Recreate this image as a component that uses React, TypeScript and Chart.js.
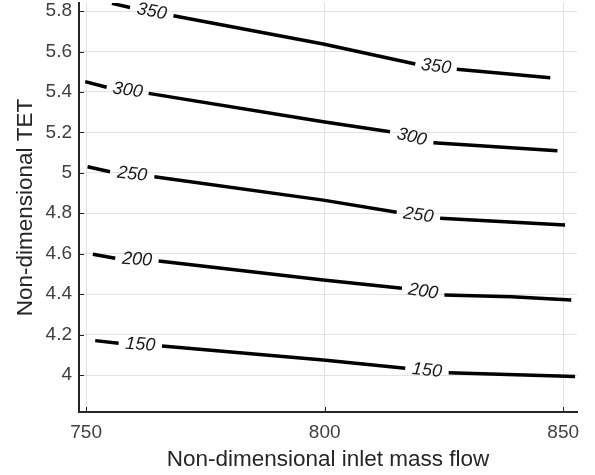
import React, { useEffect, useRef } from "react";
import { Chart, registerables } from "chart.js";
Chart.register(...registerables);

// Contour levels and their lines (null = gap where the label sits)
const levels = [150, 200, 250, 300, 350];

const mass150 = [751.9, 756.8, null, 765.9, 799.7, 816.9, null, 826.0, 852.5];
const tet150 = [4.170, 4.157, null, 4.143, 4.074, 4.033, null, 4.011, 3.992];

const mass200 = [751.4, 756.1, null, 765.2, 799.7, 816.2, null, 825.1, 839.2, 851.7];
const tet200 = [4.597, 4.577, null, 4.564, 4.470, 4.429, null, 4.396, 4.387, 4.371];

const mass250 = [750.3, 755.0, null, 764.3, 799.7, 815.1, null, 824.2, 850.4];
const tet250 = [5.030, 5.005, null, 4.981, 4.865, 4.805, null, 4.775, 4.742];

const mass300 = [749.8, 754.3, null, 763.1, 799.7, 813.7, null, 822.8, 848.8];
const tet300 = [5.451, 5.423, null, 5.393, 5.253, 5.203, null, 5.149, 5.109];

const mass350 = [755.4, 759.2, null, 768.3, 799.7, 819.0, null, 827.7, 847.3];
const tet350 = [5.838, 5.818, null, 5.777, 5.637, 5.538, null, 5.512, 5.470];

const massSeries = [mass150, mass200, mass250, mass300, mass350];
const tetSeries = [tet150, tet200, tet250, tet300, tet350];

const xTicks = [750, 800, 850];
const yTicks = [4, 4.2, 4.4, 4.6, 4.8, 5, 5.2, 5.4, 5.6, 5.8];
const xRange = [748.5, 852.9];
const yRange = [3.817, 5.84];

const xTitle = "Non-dimensional inlet mass flow";
const yTitle = "Non-dimensional TET";

const FONT = "'Liberation Sans', Arial, Helvetica, sans-serif";
const AXIS_COLOR = "#262626";

const contourLabels = {
  id: "contourLabels",
  afterDatasetsDraw(chart: any) {
    const { ctx, scales } = chart;
    const xs = scales.x;
    const ys = scales.y;
    ctx.save();
    ctx.font = `italic 18px ${FONT}`;
    ctx.fillStyle = "#1a1a1a";
    ctx.textAlign = "center";
    ctx.textBaseline = "middle";
    chart.data.datasets.forEach((ds: any, di: number) => {
      const d = ds.data;
      for (let i = 1; i < d.length - 1; i++) {
        if (d[i].y === null) {
          const a = d[i - 1];
          const b = d[i + 1];
          const ax = xs.getPixelForValue(a.x);
          const ay = ys.getPixelForValue(a.y);
          const bx = xs.getPixelForValue(b.x);
          const by = ys.getPixelForValue(b.y);
          const ang = Math.atan2(by - ay, bx - ax);
          ctx.save();
          ctx.translate((ax + bx) / 2, (ay + by) / 2);
          ctx.rotate(ang);
          ctx.fillText(String(levels[di]), 0, 0);
          ctx.restore();
        }
      }
    });
    ctx.restore();
  },
};

const inwardTicks = {
  id: "inwardTicks",
  afterDraw(chart: any) {
    const { ctx, scales, chartArea } = chart;
    ctx.save();
    ctx.strokeStyle = AXIS_COLOR;
    ctx.lineWidth = 1;
    ctx.beginPath();
    scales.y.ticks.forEach((t: any) => {
      const py = Math.round(scales.y.getPixelForValue(t.value)) + 0.5;
      ctx.moveTo(chartArea.left, py);
      ctx.lineTo(chartArea.left + 5, py);
    });
    scales.x.ticks.forEach((t: any) => {
      const px = Math.round(scales.x.getPixelForValue(t.value)) + 0.5;
      ctx.moveTo(px, chartArea.bottom);
      ctx.lineTo(px, chartArea.bottom - 5);
    });
    ctx.stroke();
    ctx.restore();
  },
};

export default function App() {
  const ref = useRef<HTMLCanvasElement>(null);
  useEffect(() => {
    if (!ref.current) return;
    const datasets = massSeries.map((xs, k) => ({
      label: String(levels[k]),
      data: xs.map((x, i) => ({ x, y: tetSeries[k][i] })),
      borderColor: "#000000",
      borderWidth: 3.5,
      pointRadius: 0,
      tension: 0,
      spanGaps: false,
      fill: false,
    }));
    const chart = new Chart(ref.current, {
      type: "line",
      data: { datasets },
      plugins: [contourLabels, inwardTicks],
      options: {
        animation: false,
        responsive: false,
        maintainAspectRatio: false,
        layout: { padding: { top: 3, right: 18, left: 0, bottom: 0 } },
        plugins: { legend: { display: false }, tooltip: { enabled: false } },
        scales: {
          x: {
            type: "linear",
            min: xRange[0],
            max: xRange[1],
            afterBuildTicks: (s: any) => {
              s.ticks = xTicks.map((v) => ({ value: v }));
            },
            afterFit: (s: any) => {
              s.height = 63;
              s.paddingLeft = 0;
              s.paddingRight = 0;
            },
            grid: { color: "#e3e3e3", lineWidth: 1, drawTicks: false },
            border: { display: true, color: AXIS_COLOR, width: 2 },
            ticks: {
              color: "#404040",
              font: { family: FONT, size: 19 },
              padding: 9,
              maxRotation: 0,
              callback: (v: any) => String(v),
            },
            title: {
              display: true,
              text: xTitle,
              color: "#262626",
              font: { family: FONT, size: 22.5 },
              padding: { top: 0, bottom: 2 },
            },
          },
          y: {
            type: "linear",
            min: yRange[0],
            max: yRange[1],
            afterBuildTicks: (s: any) => {
              s.ticks = yTicks.map((v) => ({ value: v }));
            },
            afterFit: (s: any) => {
              s.width = 79;
              s.paddingTop = 0;
              s.paddingBottom = 0;
            },
            grid: { color: "#e3e3e3", lineWidth: 1, drawTicks: false },
            border: { display: true, color: AXIS_COLOR, width: 2 },
            ticks: {
              color: "#404040",
              font: { family: FONT, size: 19 },
              padding: 7,
              callback: (v: any) => String(+Number(v).toFixed(1)),
            },
            title: {
              display: true,
              text: yTitle,
              color: "#262626",
              font: { family: FONT, size: 22.5 },
              padding: { top: 12, bottom: 0 },
            },
          },
        },
      },
    });
    return () => chart.destroy();
  }, []);
  return (
    <div style={{ position: "absolute", left: 0, top: 0, width: 595, height: 475, background: "#ffffff" }}>
      <canvas ref={ref} width={595} height={475} style={{ display: "block" }} />
    </div>
  );
}
